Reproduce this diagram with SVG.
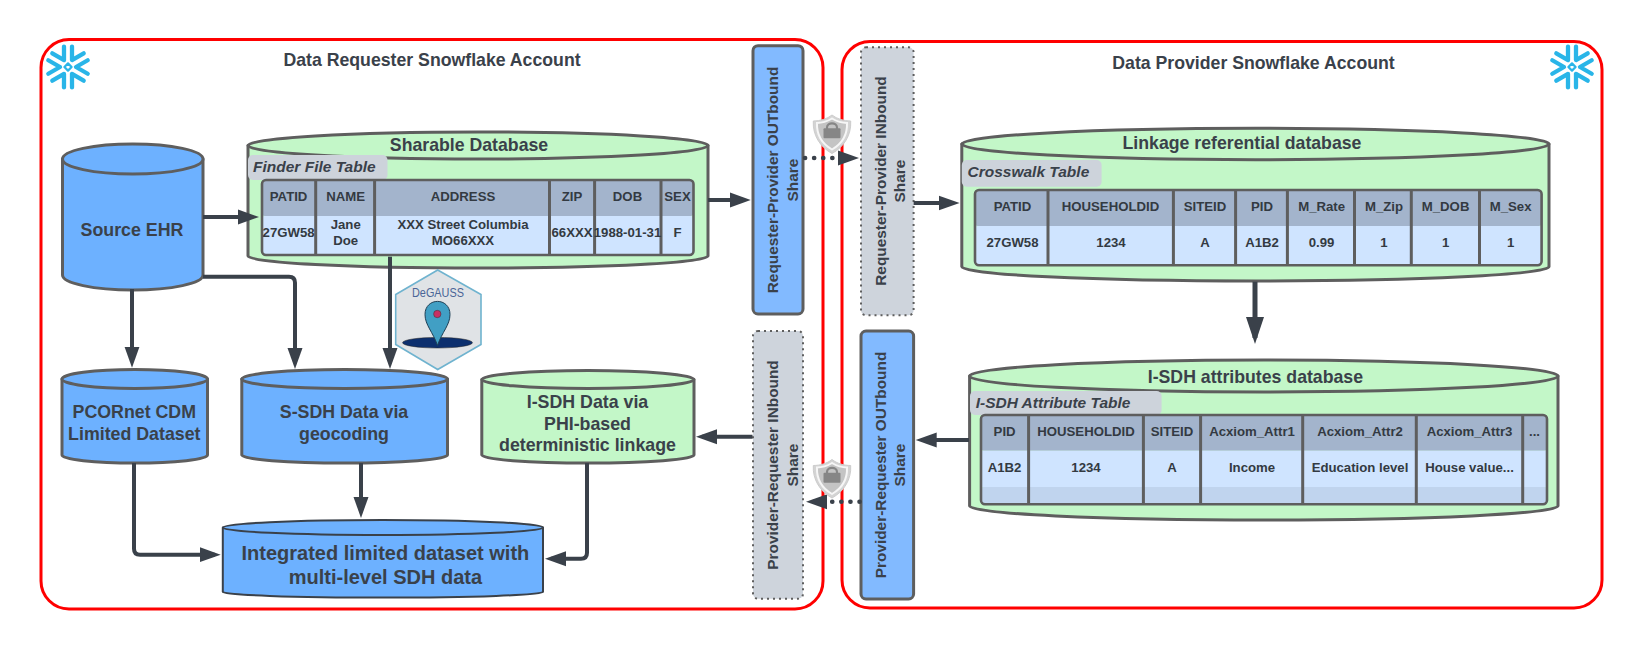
<svg xmlns="http://www.w3.org/2000/svg" xmlns:xlink="http://www.w3.org/1999/xlink" width="1642" height="650" viewBox="0 0 1642 650">
<style>
text{font-family:"Liberation Sans",Arial,sans-serif;font-weight:700;fill:#3a414a;text-anchor:middle}
.frame{fill:none;stroke:#ff0000;stroke-width:3}
.acct{font-size:17.700px}
.cyl path,.cyl ellipse{stroke:#5e5e5e;stroke-width:3;stroke-linejoin:round}
.blue path,.blue ellipse{fill:#6db1ff}
.green path,.green ellipse{fill:#c3f7c8}
.db{font-size:17.700px}
.lbl{font-size:17.800px}
.tag{fill:#cdd3db}
.tagt{font-size:15.500px;font-style:italic;text-anchor:start}
.hd{fill:#a3b4cc}
.rw{fill:#cfe4ff}
.rw2{fill:#c0d4ee}
.tb{fill:none;stroke:#5e5e5e;stroke-width:2.600}
.col{stroke:#5e5e5e;stroke-width:2.600}
.cell{font-size:13.200px;fill:#333a42}
.cells{font-size:13.200px;fill:#333a42}
.out{fill:#82baff;stroke:#5e5e5e;stroke-width:3}
.in{fill:#ced4dc;stroke:#5e5e5e;stroke-width:2;stroke-dasharray:2 4}
.share{font-size:15.400px}
.c{fill:none;stroke:#3a414a;stroke-width:4;stroke-linejoin:round}
.a{marker-end:url(#ah)}
.dot{stroke-width:4.600;stroke-dasharray:.1 9;stroke-linecap:round}
</style>
<defs>
<marker id="ah" markerUnits="userSpaceOnUse" markerWidth="22" markerHeight="16" refX="15" refY="8" orient="auto"><path d="M0 .5L21 8L0 15.500Z" fill="#3a414a"/></marker>
<marker id="ahb" markerUnits="userSpaceOnUse" markerWidth="28" markerHeight="20" refX="21" refY="10" orient="auto"><path d="M0 1L27 10L0 19Z" fill="#3a414a"/></marker>
<g id="flake">
<g id="chev"><path d="M19.700 -6.750L8 0L19.700 6.750" fill="none" stroke="#29b5e8" stroke-width="4.300" stroke-linecap="round" stroke-linejoin="round"/></g>
<use xlink:href="#chev" href="#chev" transform="rotate(60)"/>
<use xlink:href="#chev" href="#chev" transform="rotate(120)"/>
<use xlink:href="#chev" href="#chev" transform="rotate(180)"/>
<use xlink:href="#chev" href="#chev" transform="rotate(240)"/>
<use xlink:href="#chev" href="#chev" transform="rotate(300)"/>
<path d="M0 -3.600L3.600 0L0 3.600L-3.600 0Z" fill="#fff" stroke="#29b5e8" stroke-width="2.200" stroke-linejoin="round"/>
</g>
<g id="shield">
<path d="M0 0C5 4 12 6 18.700 6C19.500 20 12 32 0 38.500C-12 32 -19.500 20 -18.700 6C-12 6 -5 4 0 0Z" fill="#d4d4d4" stroke="#cccccc" stroke-width="1"/>
<path d="M0 3.500C5 6.500 10 8 15 8C15.500 20 9.500 29 0 34.500C-9.500 29 -15.500 20 -15 8C-10 8 -5 6.500 0 3.500Z" fill="#c4c4c4" stroke="#f6f6f6" stroke-width="2"/>
<path d="M-5 14V12.500C-5 7 5 7 5 12.500V14" fill="none" stroke="#868686" stroke-width="2.200"/>
<rect x="-8.500" y="13.300" width="17" height="10" rx="1" fill="#868686"/>
</g>
</defs>

<g id="requester-account">
<rect class="frame" x="41" y="39.500" width="782" height="569.500" rx="28"/>
<use xlink:href="#flake" href="#flake" transform="translate(68 67)"/>
<text class="acct" x="432" y="66">Data Requester Snowflake Account</text>
</g>
<g id="provider-account">
<rect class="frame" x="842" y="41.500" width="760" height="566.500" rx="28"/>
<use xlink:href="#flake" href="#flake" transform="translate(1572 67)"/>
<text class="acct" x="1253.500" y="69">Data Provider Snowflake Account</text>
</g>

<g id="source-ehr" class="cyl blue">
<path d="M62.500 159V275A70.250 15 0 0 0 203 275V159Z"/><ellipse cx="132.750" cy="159" rx="70.250" ry="15"/>
<text class="lbl" x="132" y="236">Source EHR</text>
</g>

<g id="sharable-database" class="cyl green">
<path d="M248 145.500V256A230 12 0 0 0 708 256V145.500Z"/><ellipse cx="478" cy="145.500" rx="230" ry="13.500"/>
<text class="db" x="469" y="151">Sharable Database</text>
<rect class="tag" x="248" y="155" width="139.500" height="25" rx="5"/>
<text class="tagt" x="253" y="172">Finder File Table</text>
<rect class="hd" x="262" y="180" width="431.500" height="36" rx="3"/><rect class="rw" x="262" y="216" width="431.500" height="39" rx="3"/>
<rect class="tb" x="262" y="180" width="431.500" height="75" rx="4"/>
<path class="col" d="M315.700 180V255M374.600 180V255M549.500 180V255M594.600 180V255M661 180V255"/>
<text class="cell" x="288.600" y="201">PATID</text><text class="cell" x="345.700" y="201">NAME</text><text class="cell" x="463" y="201">ADDRESS</text><text class="cell" x="572" y="201">ZIP</text><text class="cell" x="627.500" y="201">DOB</text><text class="cell" x="677.500" y="201">SEX</text>
<text class="cell" x="288.600" y="237">27GW58</text><text class="cell" x="345.700" y="229">Jane</text><text class="cell" x="345.700" y="245">Doe</text><text class="cell" x="463" y="229">XXX Street Columbia</text><text class="cell" x="463" y="245">MO66XXX</text><text class="cell" x="572" y="237">66XXX</text><text class="cell" x="627.500" y="237">1988-01-31</text><text class="cell" x="677.500" y="237">F</text>
</g>

<g id="degauss">
<path d="M437.700 270L481 294.500V344.500L437.700 369.500L395.700 344.500V294.500Z" fill="#e0e3e6" stroke="#6fb3cf" stroke-width="1.600"/>
<text x="438" y="297" textLength="52" lengthAdjust="spacingAndGlyphs" style="font-size:13px;font-weight:400;fill:#4a6597">DeGAUSS</text>
<ellipse cx="437.500" cy="342.700" rx="35" ry="5.300" fill="#0c2f6e" stroke="#222" stroke-width=".5"/>
<path d="M437.500 345.500C433 332 425 325 425 314.500C425 297 450 297 450 314.500C450 325 442 332 437.500 345.500Z" fill="#419fc4" stroke="#1d3f55" stroke-width="1"/>
<circle cx="437.300" cy="314" r="3.700" fill="#c92f63" stroke="#333" stroke-width=".5"/>
</g>

<g id="pcornet-cdm" class="cyl blue">
<path d="M62 379V455A72.750 8 0 0 0 207.500 455V379Z"/><ellipse cx="134.750" cy="379" rx="72.750" ry="9.500"/>
<text class="lbl" x="134.300" y="418">PCORnet CDM</text><text class="lbl" x="134.300" y="439.500">Limited Dataset</text>
</g>
<g id="s-sdh-data" class="cyl blue">
<path d="M241.800 379V455A102.850 8 0 0 0 447.500 455V379Z"/><ellipse cx="344.650" cy="379" rx="102.850" ry="9.500"/>
<text class="lbl" x="344" y="418">S-SDH Data via</text><text class="lbl" x="344" y="439.500">geocoding</text>
</g>
<g id="i-sdh-data" class="cyl green">
<path d="M481.800 379.500V455A106 8 0 0 0 694 455V379.500Z"/><ellipse cx="587.900" cy="379.500" rx="106" ry="9"/>
<text class="lbl" x="587.500" y="408">I-SDH Data via</text><text class="lbl" x="587.500" y="429.500">PHI-based</text><text class="lbl" x="587.500" y="451">deterministic linkage</text>
</g>
<g id="integrated-dataset" class="cyl blue">
<path style="stroke:#3a414a;stroke-width:2" d="M222.800 527.500V592A160 5.500 0 0 0 543 592V527.500Z"/><ellipse style="stroke:#3a414a;stroke-width:2" cx="382.900" cy="527.500" rx="160" ry="7.500"/>
<text x="385.400" y="560" style="font-size:20px">Integrated limited dataset with</text><text x="385.400" y="584" style="font-size:20px">multi-level SDH data</text>
</g>

<g id="requester-provider-outbound">
<rect class="out" x="753" y="45.700" width="50" height="268.300" rx="5"/>
<text class="share" transform="translate(778 180) rotate(-90)">Requester-Provider OUTbound</text>
<text class="share" transform="translate(798 180) rotate(-90)">Share</text>
</g>
<g id="requester-provider-inbound">
<rect class="in" x="861" y="47.300" width="52.600" height="268" rx="5"/>
<text class="share" transform="translate(886.400 181) rotate(-90)">Requester-Provider INbound</text>
<text class="share" transform="translate(905 181) rotate(-90)">Share</text>
</g>
<g id="provider-requester-inbound">
<rect class="in" x="753" y="331" width="50" height="267.700" rx="5"/>
<text class="share" transform="translate(778 465) rotate(-90)">Provider-Requester INbound</text>
<text class="share" transform="translate(798 465) rotate(-90)">Share</text>
</g>
<g id="provider-requester-outbound">
<rect class="out" x="861" y="331" width="52.600" height="268" rx="5"/>
<text class="share" transform="translate(886.400 465) rotate(-90)">Provider-Requester OUTbound</text>
<text class="share" transform="translate(905 465) rotate(-90)">Share</text>
</g>

<g id="linkage-database" class="cyl green">
<path d="M961.800 144V266.700A293.600 14.300 0 0 0 1549 266.700V144Z"/><ellipse cx="1255.400" cy="144" rx="293.600" ry="15.700"/>
<text class="db" x="1242" y="149">Linkage referential database</text>
<rect class="tag" x="961.800" y="160" width="139.800" height="26.700" rx="5"/>
<text class="tagt" x="967.500" y="177">Crosswalk Table</text>
<rect class="hd" x="975" y="190" width="566.600" height="36" rx="3"/><rect class="rw" x="975" y="226" width="566.600" height="39.300" rx="3"/>
<rect class="tb" x="975" y="190" width="566.600" height="75.300" rx="4"/>
<path class="col" d="M1048 190V265.300M1173.400 190V265.300M1235.600 190V265.300M1287.400 190V265.300M1354.500 190V265.300M1411.300 190V265.300M1479.500 190V265.300"/>
<text class="cells" x="1012.500" y="211">PATID</text><text class="cells" x="1110.500" y="211">HOUSEHOLDID</text><text class="cells" x="1205" y="211">SITEID</text><text class="cells" x="1262" y="211">PID</text><text class="cells" x="1321.600" y="211">M_Rate</text><text class="cells" x="1384" y="211">M_Zip</text><text class="cells" x="1445.600" y="211">M_DOB</text><text class="cells" x="1510.600" y="211">M_Sex</text>
<text class="cells" x="1012.500" y="247">27GW58</text><text class="cells" x="1111" y="247">1234</text><text class="cells" x="1205" y="247">A</text><text class="cells" x="1262" y="247">A1B2</text><text class="cells" x="1321.600" y="247">0.99</text><text class="cells" x="1384" y="247">1</text><text class="cells" x="1445.600" y="247">1</text><text class="cells" x="1510.600" y="247">1</text>
</g>

<g id="isdh-attributes-database" class="cyl green">
<path d="M969.600 376V506A294.200 14 0 0 0 1558 506V376Z"/><ellipse cx="1263.800" cy="376" rx="294.200" ry="16"/>
<text class="db" x="1255.400" y="382.500">I-SDH attributes database</text>
<rect class="tag" x="970" y="391" width="191.600" height="24" rx="5"/>
<text class="tagt" x="975.700" y="408">I-SDH Attribute Table</text>
<rect class="hd" x="981" y="415" width="566" height="35.700" rx="3"/><rect class="rw" x="981" y="450.700" width="566" height="36.300"/><rect class="rw2" x="981" y="487" width="566" height="17.300" rx="3"/>
<rect class="tb" x="981" y="415" width="566" height="89.300" rx="4"/>
<path class="col" d="M1028.600 415V504.300M1143.400 415V504.300M1200.600 415V504.300M1302.700 415V504.300M1416.300 415V504.300M1522.700 415V504.300"/>
<text class="cells" x="1004.600" y="436">PID</text><text class="cells" x="1086" y="436">HOUSEHOLDID</text><text class="cells" x="1172" y="436">SITEID</text><text class="cells" x="1252" y="436">Acxiom_Attr1</text><text class="cells" x="1360" y="436">Acxiom_Attr2</text><text class="cells" x="1469.500" y="436">Acxiom_Attr3</text><text class="cells" x="1534.500" y="436">...</text>
<text class="cells" x="1004.600" y="472">A1B2</text><text class="cells" x="1086" y="472">1234</text><text class="cells" x="1172" y="472">A</text><text class="cells" x="1252" y="472">Income</text><text class="cells" x="1360" y="472">Education level</text><text class="cells" x="1469.500" y="472">House value...</text>
</g>

<g id="connectors">
<path class="c a" d="M203 217H253"/>
<path class="c a" d="M203 276.700H289Q295 276.700 295 282.700V363"/>
<path class="c a" d="M132 289V361.700"/>
<path class="c a" d="M390 256.700V363"/>
<path class="c a" d="M134 463V548.700Q134 554.700 140 554.700H214.700"/>
<path class="c a" d="M361 463V512"/>
<path class="c a" d="M587 463V552.700Q587 558.700 581 558.700H551"/>
<path class="c a" d="M752.500 436.700H702"/>
<path class="c a" d="M708 200H744.700"/>
<path class="c a" d="M913.600 203H953.600"/>
<path class="c a" style="stroke-width:5;marker-end:url(#ahb)" d="M1255 281.700V338"/>
<path class="c a" d="M969 440H921.700"/>
<path class="c a dot" d="M805 158H853"/>
<path class="c a dot" d="M859.600 501.700H812"/>
</g>
<g id="lock-top"><use xlink:href="#shield" href="#shield" transform="translate(832 115)"/></g>
<g id="lock-bottom"><use xlink:href="#shield" href="#shield" transform="translate(832 459.500)"/></g>
</svg>
